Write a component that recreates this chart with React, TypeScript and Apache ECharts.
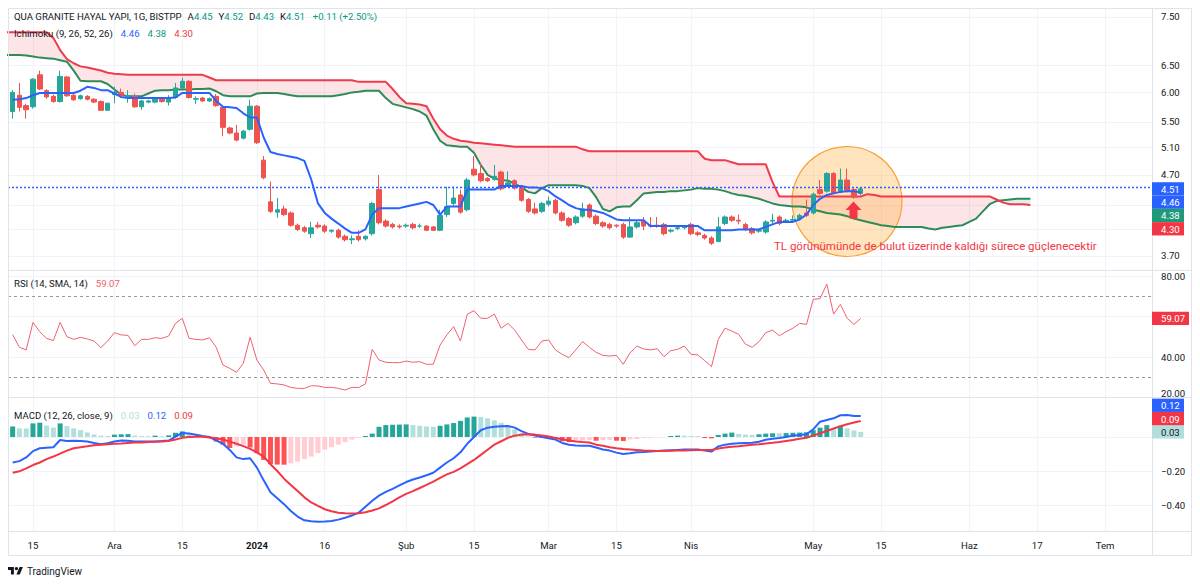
import React, { useEffect, useRef } from 'react';
import * as echarts from 'echarts';

// ---------- style constants ----------
const FONT = 'Roboto, "Noto Sans", "DejaVu Sans", sans-serif';
const TEXT_C = '#131722';
const GRID_C = '#f0f3fa';
const FRAME_C = '#e0e3eb';
const UP = '#26a69a';
const DOWN = '#ef5350';
const BLUE = '#2962ff';
const SPAN_A_C = '#2e8b57';
const SPAN_B_C = '#ef3b4b';
const RSI_C = '#f0616d';
const CLOUD_RED = 'rgba(242,54,69,0.13)';
const CLOUD_GREEN = 'rgba(34,171,148,0.16)';
const FS = 9.6;

// ---------- data ----------
// x axis (bar index) labels
const X_LABEL_POS = [3, 15, 25, 36, 46, 58, 68, 79, 89, 100, 118, 128, 141, 151, 161];
const X_LABELS = ['15', 'Ara', '15', '2024', '16', 'Şub', '15', 'Mar', '15', 'Nis', 'May', '15', 'Haz', '17', 'Tem'];
const PRICE_TICKS = [7.5, 6.5, 6.0, 5.5, 5.1, 4.7, 3.7];
const PRICE_GRID = [7.5, 6.5, 6.0, 5.5, 5.1, 4.7, 4.3, 4.0, 3.7];
const RSI_TICKS = [80, 40, 20];
const RSI_GRID = [80, 60, 40];
const RSI_BANDS = [70, 30];
const MACD_TICKS = [-0.2, -0.4];
const MACD_GRID = [0, -0.2, -0.4];

// daily candles: [open, close, low, high]
const OHLC: number[][] = [
  [5.67, 6.00, 5.55, 6.04], [5.95, 5.74, 5.67, 6.17], [5.77, 5.70, 5.55, 5.80], [5.75, 6.24, 5.72, 6.26], [6.32, 6.06, 6.04, 6.40],
  [6.03, 5.92, 5.89, 6.06], [5.93, 5.84, 5.82, 5.96], [5.84, 6.29, 5.82, 6.40], [6.28, 5.94, 5.92, 6.30], [5.95, 5.87, 5.85, 5.97],
  [5.89, 5.94, 5.87, 5.96], [5.93, 5.88, 5.86, 5.95], [5.88, 5.83, 5.81, 5.90], [5.84, 5.69, 5.68, 5.86], [5.69, 5.81, 5.68, 5.82],
  [5.96, 6.00, 5.81, 6.10], [6.00, 5.95, 5.90, 6.07], [5.93, 5.94, 5.82, 6.04], [5.93, 5.75, 5.73, 5.98], [5.75, 5.85, 5.70, 5.87],
  [5.83, 5.85, 5.81, 5.87], [5.83, 5.89, 5.81, 5.91], [5.89, 5.84, 5.82, 5.92], [5.83, 5.89, 5.77, 5.95], [5.91, 6.08, 5.89, 6.17],
  [6.08, 6.20, 6.06, 6.27], [6.20, 5.91, 5.89, 6.22], [5.88, 5.89, 5.80, 5.93], [5.90, 5.85, 5.83, 5.92], [5.85, 5.89, 5.83, 5.91],
  [5.93, 5.77, 5.75, 5.97], [5.74, 5.41, 5.27, 5.76], [5.40, 5.32, 5.30, 5.42], [5.32, 5.21, 5.19, 5.45], [5.24, 5.35, 5.22, 5.37],
  [5.38, 5.76, 5.36, 5.87], [5.76, 5.17, 5.15, 5.78], [4.91, 4.66, 4.64, 4.97], [4.34, 4.22, 4.20, 4.61], [4.21, 4.24, 4.14, 4.39],
  [4.25, 4.18, 4.16, 4.29], [4.20, 4.05, 4.03, 4.22], [4.05, 4.00, 3.98, 4.07], [4.02, 3.98, 3.96, 4.04], [3.95, 4.02, 3.90, 4.09],
  [4.05, 4.03, 4.01, 4.09], [4.04, 3.98, 3.96, 4.06], [3.98, 3.99, 3.96, 4.00], [3.99, 3.91, 3.89, 4.01], [3.92, 3.88, 3.86, 3.94],
  [3.88, 3.89, 3.83, 3.93], [3.92, 3.88, 3.86, 3.99], [3.89, 3.92, 3.87, 3.93], [3.95, 4.32, 3.93, 4.34], [4.50, 4.08, 4.06, 4.70],
  [4.10, 4.04, 4.02, 4.12], [4.06, 4.03, 4.01, 4.08], [4.04, 4.03, 4.01, 4.06], [4.04, 4.05, 4.02, 4.07], [4.06, 4.02, 4.00, 4.08],
  [4.04, 4.04, 4.02, 4.07], [4.04, 3.99, 3.98, 4.05], [4.03, 3.99, 3.98, 4.04], [3.99, 4.17, 3.98, 4.24], [4.18, 4.28, 4.15, 4.54],
  [4.32, 4.39, 4.29, 4.54], [4.43, 4.21, 4.19, 4.50], [4.24, 4.63, 4.22, 4.66], [4.78, 4.70, 4.68, 4.97], [4.72, 4.62, 4.60, 4.87],
  [4.65, 4.62, 4.60, 4.67], [4.64, 4.68, 4.62, 4.84], [4.74, 4.51, 4.49, 4.76], [4.56, 4.59, 4.54, 4.75], [4.62, 4.52, 4.50, 4.64],
  [4.53, 4.36, 4.34, 4.55], [4.37, 4.22, 4.20, 4.39], [4.25, 4.20, 4.18, 4.33], [4.22, 4.32, 4.20, 4.34], [4.31, 4.35, 4.28, 4.41],
  [4.36, 4.20, 4.18, 4.38], [4.20, 4.11, 4.09, 4.22], [4.13, 4.05, 4.03, 4.15], [4.08, 4.15, 4.06, 4.17], [4.16, 4.25, 4.14, 4.33],
  [4.30, 4.15, 4.13, 4.32], [4.16, 4.07, 4.05, 4.18], [4.08, 4.04, 4.02, 4.10], [4.06, 4.02, 4.00, 4.08], [4.05, 4.04, 4.02, 4.06],
  [4.06, 3.91, 3.89, 4.08], [3.91, 4.03, 3.90, 4.15], [4.03, 4.08, 4.01, 4.10], [4.10, 4.04, 3.99, 4.15], [4.05, 4.04, 4.02, 4.15],
  [4.05, 4.04, 4.02, 4.15], [4.06, 3.95, 3.93, 4.08], [3.98, 3.99, 3.96, 4.01], [4.01, 4.02, 3.99, 4.04], [4.02, 4.03, 4.00, 4.05],
  [4.06, 3.95, 3.93, 4.08], [3.96, 3.94, 3.92, 3.98], [3.93, 3.90, 3.88, 3.95], [3.90, 3.84, 3.82, 3.92], [3.86, 4.03, 3.85, 4.15],
  [4.07, 4.15, 4.05, 4.17], [4.15, 4.11, 4.09, 4.17], [4.11, 4.10, 4.06, 4.18], [4.06, 4.00, 3.98, 4.08], [4.01, 3.96, 3.94, 4.03],
  [3.98, 3.99, 3.96, 4.01], [3.97, 4.09, 3.95, 4.11], [4.10, 4.11, 4.07, 4.19], [4.15, 4.07, 4.05, 4.17], [4.10, 4.11, 4.08, 4.13],
  [4.11, 4.12, 4.09, 4.17], [4.13, 4.17, 4.11, 4.19], [4.20, 4.17, 4.15, 4.37], [4.20, 4.44, 4.18, 4.46], [4.50, 4.45, 4.43, 4.63],
  [4.48, 4.72, 4.46, 4.74], [4.72, 4.46, 4.44, 4.74], [4.48, 4.63, 4.46, 4.79], [4.63, 4.48, 4.46, 4.79], [4.50, 4.40, 4.38, 4.52],
  [4.45, 4.51, 4.43, 4.52],
];

// Ichimoku conversion line (per candle)
const TENKAN = [
  5.87, 5.88, 5.90, 5.95, 5.99, 5.99, 5.99, 5.99, 5.99, 5.99,
  6.03, 6.10, 6.08, 6.04, 6.04, 5.98, 5.92, 5.90, 5.90, 5.90,
  5.90, 5.90, 5.90, 5.90, 5.91, 5.99, 5.99, 5.99, 5.99, 5.99,
  5.85, 5.75, 5.74, 5.73, 5.64, 5.57, 5.57, 5.25, 5.03, 5.00,
  4.98, 4.96, 4.94, 4.90, 4.64, 4.32, 4.20, 4.13, 4.07, 4.01,
  3.96, 3.96, 4.00, 4.18, 4.26, 4.26, 4.26, 4.26, 4.28, 4.30,
  4.32, 4.34, 4.30, 4.18, 4.28, 4.28, 4.28, 4.50, 4.50, 4.50,
  4.50, 4.50, 4.55, 4.55, 4.55, 4.55, 4.53, 4.53, 4.52, 4.48,
  4.41, 4.36, 4.30, 4.26, 4.24, 4.24, 4.22, 4.20, 4.16, 4.12,
  4.11, 4.11, 4.11, 4.11, 4.04, 4.04, 4.04, 4.04, 4.04, 4.04,
  4.04, 4.04, 3.99, 3.99, 3.99, 3.99, 3.99, 4.00, 4.00, 4.00,
  4.00, 4.03, 4.06, 4.09, 4.09, 4.09, 4.12, 4.18, 4.30, 4.38,
  4.43, 4.45, 4.47, 4.48, 4.48, 4.46,
];

// leading spans, from bar index SPAN_START to 150 (26 bars ahead)
const SPAN_START = -1;
const SPAN_A = [
  6.70, 6.70, 6.70, 6.69, 6.67, 6.65, 6.64, 6.63, 6.60, 6.57,
  6.40, 6.21, 6.20, 6.20, 6.20, 6.15, 6.05, 5.96, 5.93, 5.93,
  5.93, 5.98, 6.03, 6.04, 6.04, 6.05, 6.05, 6.05, 6.06, 6.06,
  6.07, 6.02, 5.95, 5.93, 5.93, 5.93, 5.93, 5.98, 5.99, 5.99,
  5.99, 5.97, 5.95, 5.93, 5.93, 5.93, 5.93, 5.93, 5.93, 5.95,
  5.97, 6.00, 6.01, 6.03, 6.03, 6.03, 5.90, 5.80, 5.77, 5.74,
  5.71, 5.67, 5.60, 5.38, 5.20, 5.13, 5.12, 5.11, 5.11, 5.02,
  4.84, 4.70, 4.65, 4.63, 4.62, 4.58, 4.53, 4.47, 4.45, 4.52,
  4.56, 4.56, 4.56, 4.56, 4.56, 4.55, 4.52, 4.40, 4.25, 4.22,
  4.27, 4.28, 4.28, 4.36, 4.45, 4.46, 4.47, 4.47, 4.48, 4.48,
  4.49, 4.50, 4.52, 4.51, 4.51, 4.50, 4.48, 4.45, 4.43, 4.42,
  4.40, 4.38, 4.35, 4.32, 4.30, 4.29, 4.28, 4.28, 4.27, 4.24,
  4.22, 4.20, 4.19, 4.18, 4.16, 4.13, 4.11, 4.09, 4.07, 4.05,
  4.04, 4.03, 4.03, 4.03, 4.03, 4.03, 4.01, 4.00, 4.02, 4.03,
  4.04, 4.05, 4.09, 4.13, 4.22, 4.31, 4.35, 4.36, 4.37, 4.38,
  4.38, 4.38,
];
const SPAN_B = [
  7.17, 7.17, 7.17, 7.17, 7.17, 7.17, 7.17, 7.05, 6.80, 6.62,
  6.54, 6.48, 6.46, 6.43, 6.40, 6.36, 6.34, 6.33, 6.32, 6.32,
  6.32, 6.32, 6.32, 6.32, 6.32, 6.32, 6.32, 6.32, 6.32, 6.32,
  6.27, 6.22, 6.22, 6.22, 6.22, 6.22, 6.22, 6.22, 6.22, 6.22,
  6.22, 6.22, 6.22, 6.22, 6.22, 6.22, 6.22, 6.22, 6.22, 6.22,
  6.22, 6.22, 6.19, 6.19, 6.19, 6.19, 6.19, 6.06, 5.92, 5.81,
  5.80, 5.79, 5.76, 5.55, 5.38, 5.28, 5.23, 5.20, 5.19, 5.17,
  5.16, 5.15, 5.14, 5.13, 5.12, 5.11, 5.11, 5.11, 5.11, 5.11,
  5.11, 5.11, 5.11, 5.11, 5.11, 5.07, 5.04, 5.04, 5.04, 5.04,
  5.04, 5.04, 5.04, 5.04, 5.04, 5.04, 5.04, 5.04, 5.04, 5.04,
  5.04, 5.04, 5.04, 4.93, 4.91, 4.91, 4.91, 4.88, 4.85, 4.85,
  4.85, 4.85, 4.85, 4.60, 4.41, 4.41, 4.41, 4.41, 4.41, 4.41,
  4.41, 4.41, 4.41, 4.41, 4.41, 4.41, 4.41, 4.44, 4.43, 4.41,
  4.41, 4.41, 4.41, 4.41, 4.41, 4.41, 4.41, 4.41, 4.41, 4.41,
  4.41, 4.41, 4.41, 4.41, 4.41, 4.41, 4.37, 4.33, 4.31, 4.31,
  4.31, 4.30,
];

const RSI = [
  51.0, 44.8, 43.5, 57.1, 52.5, 49.2, 48.1, 57.1, 50.0, 48.7,
  49.7, 48.9, 47.9, 44.6, 47.9, 52.0, 50.9, 50.7, 45.6, 48.7,
  48.7, 49.5, 49.2, 50.4, 56.6, 59.1, 49.2, 48.7, 48.4, 49.5,
  44.8, 36.0, 34.4, 32.4, 36.9, 49.7, 38.5, 33.6, 27.0, 26.7,
  26.2, 25.0, 24.5, 24.5, 25.8, 25.7, 25.0, 25.0, 24.5, 23.7,
  25.0, 24.9, 26.7, 43.8, 38.5, 37.4, 37.2, 37.2, 38.0, 37.4,
  37.7, 36.4, 36.4, 45.9, 50.9, 55.0, 47.9, 61.1, 62.9, 59.1,
  59.1, 61.2, 54.2, 56.6, 53.3, 48.4, 43.8, 43.5, 47.9, 48.4,
  43.5, 41.3, 39.7, 43.5, 47.6, 44.8, 42.3, 40.8, 40.5, 40.8,
  36.4, 42.1, 45.4, 44.0, 43.5, 44.1, 40.2, 43.1, 43.8, 45.4,
  41.3, 41.0, 38.2, 35.2, 48.7, 54.2, 52.8, 51.2, 46.4, 44.8,
  47.6, 52.0, 53.3, 50.5, 52.5, 54.2, 56.6, 56.1, 68.5, 68.8,
  76.0, 61.2, 66.0, 59.1, 56.1, 59.07,
];

const MACD = [
  -0.150, -0.142, -0.120, -0.083, -0.066, -0.063, -0.060, -0.018, -0.023, -0.022,
  -0.024, -0.026, -0.035, -0.043, -0.036, -0.027, -0.020, -0.022, -0.027, -0.027,
  -0.027, -0.026, -0.024, -0.021, 0.002, 0.024, 0.020, 0.013, 0.006, 0.000,
  -0.020, -0.040, -0.076, -0.120, -0.130, -0.125, -0.180, -0.255, -0.325, -0.360,
  -0.395, -0.435, -0.468, -0.490, -0.496, -0.498, -0.497, -0.494, -0.486, -0.475,
  -0.462, -0.445, -0.410, -0.375, -0.345, -0.323, -0.305, -0.285, -0.265, -0.250,
  -0.238, -0.225, -0.210, -0.180, -0.150, -0.125, -0.090, -0.040, 0.000, 0.040,
  0.055, 0.060, 0.063, 0.065, 0.055, 0.035, 0.018, 0.008, 0.000, -0.007,
  -0.015, -0.035, -0.046, -0.050, -0.051, -0.051, -0.062, -0.073, -0.080, -0.092,
  -0.100, -0.096, -0.090, -0.088, -0.085, -0.082, -0.080, -0.078, -0.076, -0.074,
  -0.073, -0.074, -0.080, -0.086, -0.055, -0.045, -0.040, -0.037, -0.035, -0.034,
  -0.028, -0.016, -0.010, -0.006, 0.000, 0.008, 0.012, 0.016, 0.045, 0.090,
  0.100, 0.110, 0.128, 0.129, 0.124, 0.124,
];
const SIGNAL = [
  -0.210, -0.202, -0.185, -0.165, -0.150, -0.130, -0.115, -0.098, -0.080, -0.066,
  -0.060, -0.055, -0.049, -0.046, -0.043, -0.040, -0.038, -0.035, -0.033, -0.032,
  -0.030, -0.028, -0.026, -0.024, -0.015, -0.005, 0.000, 0.002, 0.001, -0.003,
  -0.008, -0.015, -0.027, -0.040, -0.054, -0.070, -0.090, -0.115, -0.160, -0.200,
  -0.245, -0.282, -0.318, -0.355, -0.385, -0.405, -0.425, -0.437, -0.445, -0.449,
  -0.450, -0.449, -0.443, -0.432, -0.420, -0.400, -0.378, -0.355, -0.335, -0.318,
  -0.300, -0.282, -0.263, -0.240, -0.220, -0.205, -0.185, -0.160, -0.135, -0.105,
  -0.075, -0.045, -0.025, -0.005, 0.008, 0.014, 0.016, 0.014, 0.009, 0.003,
  -0.006, -0.013, -0.021, -0.027, -0.030, -0.032, -0.045, -0.052, -0.060, -0.066,
  -0.071, -0.074, -0.077, -0.080, -0.081, -0.082, -0.082, -0.081, -0.080, -0.079,
  -0.078, -0.077, -0.076, -0.076, -0.068, -0.062, -0.057, -0.054, -0.050, -0.046,
  -0.043, -0.038, -0.034, -0.029, -0.023, -0.017, -0.010, -0.004, 0.008, 0.022,
  0.035, 0.050, 0.063, 0.075, 0.085, 0.094,
];
const HIST = [
  0.062, 0.051, 0.050, 0.080, 0.084, 0.067, 0.055, 0.080, 0.064, 0.051,
  0.041, 0.027, 0.015, 0.008, 0.006, 0.014, 0.016, 0.017, 0.008, 0.005,
  0.004, 0.008, 0.005, 0.010, 0.025, 0.033, 0.022, 0.008, 0.002, -0.004,
  -0.027, -0.045, -0.065, -0.055, -0.045, -0.062, -0.095, -0.135, -0.160, -0.162,
  -0.163, -0.155, -0.145, -0.130, -0.115, -0.095, -0.075, -0.060, -0.045, -0.030,
  -0.015, -0.005, 0.006, 0.020, 0.060, 0.070, 0.072, 0.073, 0.074, 0.070,
  0.066, 0.062, 0.060, 0.066, 0.074, 0.082, 0.095, 0.115, 0.120, 0.118,
  0.110, 0.098, 0.083, 0.065, 0.045, 0.022, 0.004, -0.004, -0.006, -0.010,
  -0.014, -0.025, -0.030, -0.024, -0.020, -0.018, -0.022, -0.018, -0.017, -0.022,
  -0.024, -0.014, -0.012, -0.006, -0.004, -0.002, -0.001, 0.006, 0.008, 0.008,
  0.006, 0.005, -0.006, -0.008, 0.012, 0.020, 0.026, 0.018, 0.014, 0.012,
  0.016, 0.020, 0.022, 0.022, 0.023, 0.025, 0.026, 0.028, 0.040, 0.055,
  0.070, 0.046, 0.066, 0.051, 0.039, 0.030,
];

// ---------- layout (pane geometry) ----------
const X_MIN = -0.6847;
const X_MAX = 167.927;
const P_MAX = 2.04142; // ln price at pane top
const P_MIN = 1.26627; // ln price at pane bottom
const RSI_MIN = 20;
const RSI_MAX = 82.47;
const MACD_MAX = 0.2294;
const MACD_MIN = -0.5529;

const ln = Math.log;
const last = (a: number[]) => a[a.length - 1];

function cloudRenderItem(_params: any, api: any) {
  const children: any[] = [];
  let top: number[][] = [];
  let bot: number[][] = [];
  let sign = 0;
  const push = (x: number, a: number, b: number) => {
    top.push(api.coord([x, a]));
    bot.push(api.coord([x, b]));
  };
  const flush = () => {
    if (top.length > 1) {
      children.push({
        type: 'polygon',
        shape: { points: top.concat(bot.slice().reverse()) },
        style: { fill: sign > 0 ? CLOUD_RED : CLOUD_GREEN },
      });
    }
    top = [];
    bot = [];
  };
  for (let k = 0; k < SPAN_A.length; k++) {
    const x = k + SPAN_START;
    const a = ln(SPAN_A[k]);
    const b = ln(SPAN_B[k]);
    const s = b > a ? 1 : b < a ? -1 : sign;
    if (k > 0 && sign !== 0 && s !== sign) {
      const pa = ln(SPAN_A[k - 1]);
      const pb = ln(SPAN_B[k - 1]);
      const d0 = pb - pa;
      const d1 = b - a;
      const t = d0 / (d0 - d1);
      const xc = x - 1 + t;
      const yc = pa + t * (a - pa);
      push(xc, yc, yc);
      flush();
      sign = s;
      push(xc, yc, yc);
    }
    sign = s;
    push(x, a, b);
  }
  flush();
  return { type: 'group', children };
}

function histColor(i: number) {
  const h = HIST[i];
  const p = i > 0 ? HIST[i - 1] : -Infinity;
  if (h >= 0) return h > p ? '#26a69a' : '#b2dfdb';
  return h < p || i === 0 ? '#ff5252' : '#ffcdd2';
}

const axisLabelBase = { color: TEXT_C, fontSize: FS, fontFamily: FONT, margin: 9 };

function xAxisFor(g: number) {
  return {
    gridIndex: g,
    type: 'value',
    min: X_MIN,
    max: X_MAX,
    axisLine: { show: false },
    axisTick: { show: false, customValues: X_LABEL_POS },
    splitLine: { show: true, lineStyle: { color: GRID_C, width: 1 } },
    axisLabel:
      g === 2
        ? {
            show: true,
            customValues: X_LABEL_POS,
            ...axisLabelBase,
            margin: 9,
            formatter: (v: number) => {
              const k = X_LABEL_POS.indexOf(Math.round(v));
              if (k < 0) return '';
              const s = X_LABELS[k];
              return s === '2024' ? `{b|${s}}` : s;
            },
            rich: { b: { fontWeight: 'bold', fontSize: FS, fontFamily: FONT, color: TEXT_C } },
          }
        : { show: false },
  };
}

function buildOption() {
  const candleData = OHLC.map((d, i) => [i, ln(d[0]), ln(d[1]), ln(d[2]), ln(d[3])]);
  const tenkanData = TENKAN.map((v, i) => [i, ln(v)]);
  const spanAData = SPAN_A.map((v, k) => [k + SPAN_START, ln(v)]);
  const spanBData = SPAN_B.map((v, k) => [k + SPAN_START, ln(v)]);
  const lastClose = OHLC[OHLC.length - 1][1];

  return {
    animation: false,
    backgroundColor: '#ffffff',
    textStyle: { fontFamily: FONT },
    grid: [
      { left: 8, right: 48, top: 8, height: 262 },
      { left: 8, right: 48, top: 271, height: 126.5 },
      { left: 8, right: 48, top: 398, height: 133 },
    ],
    xAxis: [xAxisFor(0), xAxisFor(1), xAxisFor(2)],
    yAxis: [
      {
        gridIndex: 0,
        type: 'value',
        position: 'right',
        min: P_MIN,
        max: P_MAX,
        axisLine: { show: false },
        axisTick: { show: false, customValues: PRICE_GRID.map(ln) },
        splitLine: { show: true, lineStyle: { color: GRID_C } },
        axisLabel: {
          ...axisLabelBase,
          customValues: PRICE_TICKS.map(ln),
          formatter: (v: number) => Math.exp(v).toFixed(2),
        },
      },
      {
        gridIndex: 1,
        type: 'value',
        position: 'right',
        min: RSI_MIN,
        max: RSI_MAX,
        axisLine: { show: false },
        axisTick: { show: false, customValues: RSI_GRID },
        splitLine: { show: true, lineStyle: { color: GRID_C } },
        axisLabel: {
          ...axisLabelBase,
          customValues: RSI_TICKS,
          formatter: (v: number) => (Math.abs(v - RSI_MIN) < 1e-6 ? `{lo|${v.toFixed(2)}}` : v.toFixed(2)),
          rich: { lo: { fontSize: FS, fontFamily: FONT, color: TEXT_C, padding: [0, 0, 8, 0] } },
        },
      },
      {
        gridIndex: 2,
        type: 'value',
        position: 'right',
        min: MACD_MIN,
        max: MACD_MAX,
        axisLine: { show: false },
        axisTick: { show: false, customValues: MACD_GRID },
        splitLine: { show: true, lineStyle: { color: GRID_C } },
        axisLabel: {
          ...axisLabelBase,
          customValues: MACD_TICKS,
          formatter: (v: number) => (v < -1e-9 ? '\u2212' + Math.abs(v).toFixed(2) : Math.abs(v).toFixed(2)),
        },
      },
    ],
    series: [
      {
        type: 'custom',
        name: 'cloud',
        xAxisIndex: 0,
        yAxisIndex: 0,
        renderItem: cloudRenderItem,
        data: [[0, ln(SPAN_A[1])]],
        clip: true,
        silent: true,
        z: 1,
      },
      {
        type: 'line',
        name: 'Leading Span A',
        xAxisIndex: 0,
        yAxisIndex: 0,
        data: spanAData,
        showSymbol: false,
        symbol: 'none',
        lineStyle: { color: SPAN_A_C, width: 2 },
        silent: true,
        z: 2,
      },
      {
        type: 'line',
        name: 'Leading Span B',
        xAxisIndex: 0,
        yAxisIndex: 0,
        data: spanBData,
        showSymbol: false,
        symbol: 'none',
        lineStyle: { color: SPAN_B_C, width: 2 },
        silent: true,
        z: 2,
      },
      {
        type: 'candlestick',
        name: 'QUA',
        xAxisIndex: 0,
        yAxisIndex: 0,
        data: candleData,
        encode: { x: 0, y: [1, 2, 3, 4] },
        barWidth: 5,
        itemStyle: { color: UP, color0: DOWN, borderColor: UP, borderColor0: DOWN, borderWidth: 1 },
        markLine: {
          silent: true,
          symbol: ['none', 'none'],
          label: { show: false },
          lineStyle: { color: BLUE, type: [2, 2], width: 1.3 },
          data: [{ yAxis: ln(lastClose) }],
        },
        z: 3,
      },
      {
        type: 'line',
        name: 'Conversion Line',
        xAxisIndex: 0,
        yAxisIndex: 0,
        data: tenkanData,
        showSymbol: false,
        symbol: 'none',
        lineStyle: { color: BLUE, width: 2 },
        silent: true,
        z: 4,
      },
      {
        type: 'line',
        name: 'RSI',
        xAxisIndex: 1,
        yAxisIndex: 1,
        data: RSI.map((v, i) => [i, v]),
        showSymbol: false,
        symbol: 'none',
        lineStyle: { color: RSI_C, width: 1 },
        silent: true,
        markLine: {
          silent: true,
          symbol: ['none', 'none'],
          label: { show: false },
          lineStyle: { color: '#9598a1', type: [3, 3], width: 1 },
          data: RSI_BANDS.map((v) => ({ yAxis: v })),
        },
      },
      {
        type: 'bar',
        name: 'Histogram',
        xAxisIndex: 2,
        yAxisIndex: 2,
        barWidth: 5,
        data: HIST.map((h, i) => ({ value: [i, h], itemStyle: { color: histColor(i) } })),
        silent: true,
      },
      {
        type: 'line',
        name: 'MACD',
        xAxisIndex: 2,
        yAxisIndex: 2,
        data: MACD.map((v, i) => [i, v]),
        showSymbol: false,
        symbol: 'none',
        lineStyle: { color: BLUE, width: 2 },
        silent: true,
        z: 3,
      },
      {
        type: 'line',
        name: 'Signal',
        xAxisIndex: 2,
        yAxisIndex: 2,
        data: SIGNAL.map((v, i) => [i, v]),
        showSymbol: false,
        symbol: 'none',
        lineStyle: { color: '#f23645', width: 2 },
        silent: true,
        z: 3,
      },
    ],
  };
}

function staticGraphics() {
  const c = OHLC[OHLC.length - 1];
  const prev = OHLC[OHLC.length - 2][1];
  const chg = c[1] - prev;
  const pct = (chg / prev) * 100;
  const sgn = chg >= 0 ? '+' : '\u2212';
  const rs = (fill: string, pad = 0) => ({ fill, fontSize: FS, fontFamily: FONT, padding: [0, pad, 0, 0] });
  const g: any[] = [];
  // frame & separators
  g.push({ type: 'rect', z: 50, silent: true, shape: { x: 8.5, y: 8.5, width: 1183, height: 547 }, style: { fill: 'none', stroke: FRAME_C, lineWidth: 1 } });
  g.push({ type: 'line', z: 50, silent: true, shape: { x1: 1152.5, y1: 8.5, x2: 1152.5, y2: 555.5 }, style: { stroke: FRAME_C, lineWidth: 1 } });
  [270.5, 397.5, 531.5].forEach((y) =>
    g.push({ type: 'line', z: 50, silent: true, shape: { x1: 8.5, y1: y, x2: 1191.5, y2: y }, style: { stroke: FRAME_C, lineWidth: 1 } })
  );
  // header legends
  g.push({
    type: 'text', x: 14, y: 16, z: 100, silent: true,
    style: {
      text: `{t|QUA GRANITE HAYAL YAPI, 1G, BISTPP}{l|A}{v|${c[0].toFixed(2)}}{l|Y}{v|${c[3].toFixed(2)}}{l|D}{v|${c[2].toFixed(2)}}{l|K}{w|${c[1].toFixed(2)}}{v|${sgn}${Math.abs(chg).toFixed(2)} (${sgn}${Math.abs(pct).toFixed(2)}%)}`,
      verticalAlign: 'middle',
      rich: { t: rs(TEXT_C, 6), l: rs(TEXT_C), v: rs('#089981', 6), w: rs('#089981', 8) },
    },
  });
  g.push({
    type: 'text', x: 14, y: 33, z: 100, silent: true,
    style: {
      text: `{t|Ichimoku (9, 26, 52, 26)}{b|${last(TENKAN).toFixed(2)}}{g|${last(SPAN_A).toFixed(2)}}{r|${last(SPAN_B).toFixed(2)}}`,
      verticalAlign: 'middle',
      rich: { t: rs(TEXT_C, 8), b: rs(BLUE, 8), g: rs('#089981', 8), r: rs('#f23645') },
    },
  });
  g.push({
    type: 'text', x: 14, y: 283.5, z: 100, silent: true,
    style: {
      text: `{t|RSI (14, SMA, 14)}{r|${last(RSI).toFixed(2)}}`,
      verticalAlign: 'middle',
      rich: { t: rs(TEXT_C, 8), r: rs(RSI_C) },
    },
  });
  g.push({
    type: 'text', x: 14, y: 415, z: 100, silent: true,
    style: {
      text: `{t|MACD (12, 26, close, 9)}{h|${last(HIST).toFixed(2)}}{b|${last(MACD).toFixed(2)}}{r|${last(SIGNAL).toFixed(2)}}`,
      verticalAlign: 'middle',
      rich: { t: rs(TEXT_C, 8), h: rs('#b2dfdb', 8), b: rs(BLUE, 8), r: rs('#f23645') },
    },
  });
  // annotation
  g.push({
    type: 'circle', z: 1, silent: true,
    shape: { cx: 847, cy: 201.5, r: 55 },
    style: { fill: 'rgba(255,167,38,0.30)', stroke: '#f9a23c', lineWidth: 1.2 },
  });
  g.push({
    type: 'polygon', z: 60, silent: true,
    shape: { points: [[853.5, 201.5], [861.5, 210], [857.5, 210], [857.5, 218.5], [849.5, 218.5], [849.5, 210], [845.5, 210]] },
    style: { fill: '#f23645' },
  });
  g.push({
    type: 'text', x: 774, y: 246, z: 100, silent: true,
    style: {
      text: 'TL görünümünde de bulut üzerinde kaldığı sürece güçlenecektir',
      fill: '#f23645', fontSize: 11.5, fontFamily: FONT, verticalAlign: 'middle',
    },
  });
  // TradingView logo
  const S = 0.42, LX = 8, LY = 565.3;
  const lp = (pts: number[][]) => pts.map(([x, y]) => [LX + x * S, LY + y * S]);
  g.push({ type: 'polygon', z: 100, silent: true, shape: { points: lp([[0, 4], [14, 4], [14, 22], [7, 22], [7, 11], [0, 11]]) }, style: { fill: TEXT_C } });
  g.push({ type: 'polygon', z: 100, silent: true, shape: { points: lp([[27.5, 4], [35.5, 4], [28, 22], [20, 22]]) }, style: { fill: TEXT_C } });
  g.push({ type: 'circle', z: 100, silent: true, shape: { cx: LX + 20 * S, cy: LY + 8 * S, r: 4 * S }, style: { fill: TEXT_C } });
  g.push({
    type: 'text', x: 27, y: 571, z: 100, silent: true,
    style: { text: 'TradingView', fill: TEXT_C, fontSize: 10, fontFamily: FONT, verticalAlign: 'middle' },
  });
  return g;
}

function boxGraphics(chart: any) {
  const H = 13.3;
  const lastClose = OHLC[OHLC.length - 1][1];
  const groups = [
    {
      axis: 0,
      items: [
        { v: ln(lastClose), text: lastClose.toFixed(2), bg: BLUE, fg: '#ffffff' },
        { v: ln(last(TENKAN)), text: last(TENKAN).toFixed(2), bg: BLUE, fg: '#ffffff' },
        { v: ln(last(SPAN_A)), text: last(SPAN_A).toFixed(2), bg: '#1e9a7a', fg: '#ffffff' },
        { v: ln(last(SPAN_B)), text: last(SPAN_B).toFixed(2), bg: '#f23645', fg: '#ffffff' },
      ],
    },
    { axis: 1, items: [{ v: last(RSI), text: last(RSI).toFixed(2), bg: '#f23645', fg: '#ffffff' }] },
    {
      axis: 2,
      items: [
        { v: last(HIST), text: last(HIST).toFixed(2), bg: '#b2dfdb', fg: TEXT_C },
        { v: last(MACD), text: last(MACD).toFixed(2), bg: BLUE, fg: '#ffffff' },
        { v: last(SIGNAL), text: last(SIGNAL).toFixed(2), bg: '#f23645', fg: '#ffffff' },
      ],
    },
  ];
  const out: any[] = [];
  groups.forEach((grp) => {
    const its = grp.items.map((it) => ({ ...it, y: chart.convertToPixel({ yAxisIndex: grp.axis }, it.v) as number, py: 0 }));
    const anchor = its[0];
    anchor.py = anchor.y;
    const above = its.slice(1).filter((it) => it.y < anchor.y).sort((a, b) => b.y - a.y);
    let prev = anchor.py;
    above.forEach((it) => { it.py = Math.min(it.y, prev - H); prev = it.py; });
    const below = its.slice(1).filter((it) => it.y >= anchor.y).sort((a, b) => a.y - b.y);
    prev = anchor.py;
    below.forEach((it) => { it.py = Math.max(it.y, prev + H); prev = it.py; });
    its.forEach((it) => {
      const w = it.text.length * 5 + 12;
      out.push({ type: 'rect', z: 110, silent: true, shape: { x: 1152, y: it.py - H / 2, width: w, height: H }, style: { fill: it.bg } });
      out.push({
        type: 'text', x: 1161, y: it.py + 0.5, z: 111, silent: true,
        style: { text: it.text, fill: it.fg, fontSize: FS, fontFamily: FONT, verticalAlign: 'middle' },
      });
    });
  });
  return out;
}

export default function App() {
  const ref = useRef<HTMLDivElement>(null);
  useEffect(() => {
    if (!ref.current) return;
    const chart = echarts.init(ref.current, undefined, { renderer: 'svg' });
    chart.setOption(buildOption() as any);
    chart.setOption({ graphic: [...staticGraphics(), ...boxGraphics(chart)] } as any);
    return () => chart.dispose();
  }, []);
  return (
    <div
      ref={ref}
      style={{ position: 'absolute', left: 0, top: 0, width: 1200, height: 584, background: '#ffffff' }}
    />
  );
}
